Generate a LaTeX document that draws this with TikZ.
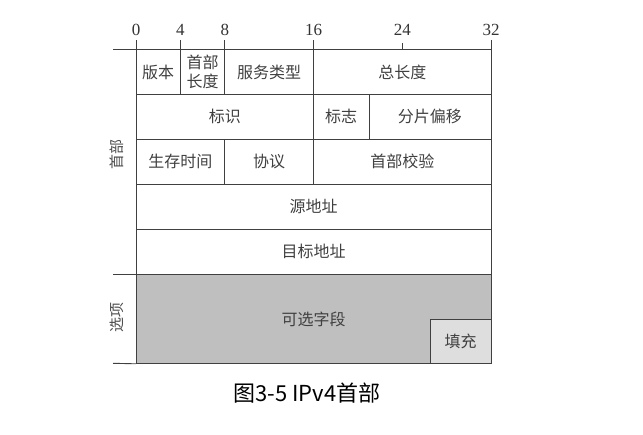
\documentclass[tikz,border=0pt]{standalone}
\usepackage{fontspec}
\setmainfont{Liberation Serif}
\newfontfamily\cjk{Noto Sans CJK SC}
\begin{document}
\begin{tikzpicture}[x=1pt,y=-1pt,
  line/.style={draw=black!75, line width=0.9pt},
  field/.style={line, anchor=north west, inner sep=0pt, outer sep=0pt,
    font=\cjk\fontsize{16}{19}\selectfont, text=black!75},
  num/.style={font=\fontsize{17}{19}\selectfont, text=black!80, inner sep=0pt},
  side/.style={font=\cjk\fontsize{15}{17}\selectfont, text=black!70, rotate=90, inner sep=0pt}]
\useasboundingbox (0,0) rectangle (643,435);
\def\u{11.094}
\def\h{44.9}
% fields: x0=136, y0=49.5
\newcommand\fld[6]{% name, bit start, bit end, row, text, style
  \node[field,#6, minimum width={(#3-#2)*\u pt}, minimum height={\h pt}]
    (#1) at ({136+#2*\u},{49.5+#4*\h}) {#5};}
\fld{ver}{0}{4}{0}{版本}{}
\fld{ihl}{4}{8}{0}{\shortstack[c]{首部\\[1pt]长度}}{}
\fld{tos}{8}{16}{0}{服务类型}{}
\fld{len}{16}{32}{0}{总长度}{}
\fld{id}{0}{16}{1}{标识}{}
\fld{flg}{16}{21}{1}{标志}{}
\fld{off}{21}{32}{1}{分片偏移}{}
\fld{ttl}{0}{8}{2}{生存时间}{}
\fld{pro}{8}{16}{2}{协议}{}
\fld{chk}{16}{32}{2}{首部校验}{}
\fld{src}{0}{32}{3}{源地址}{}
\fld{dst}{0}{32}{4}{目标地址}{}
\node[field, fill=black!25, minimum width={32*\u pt}, minimum height={2*\h pt}]
  (opt) at (136,274) {};
\node[font=\cjk\fontsize{16}{19}\selectfont, text=black!75] (optt) at (opt.center) {可选字段};
\node[field, fill=black!13, anchor=south east, minimum width=61pt, minimum height=44.5pt]
  (pad) at (opt.south east) {填充};
% axis
\coordinate (axl) at (113,49.5);
\coordinate (axr) at (ver.north west -| len.north east);
\draw[line] (axl) -- (axr);
\coordinate (bl) at (113,363.3);
\draw[line] (bl) -- (opt.south west);
\coordinate (ml) at (113,274);
\draw[line] (ml) -- (opt.north west);
% ticks and numbers
\foreach \b/\n/\t in {0/n0/40.5,4/n4/40.5,8/n8/40.5,16/n16/40.5,24/n24/43,32/n32/40.5}{
  \coordinate (t\n) at ({136+\b*\u},49.5);
  \draw[line] (t\n) -- ++(0,{\t-49.5});
  \node[num] (\n) at ({136+\b*\u},30) {\b};
}
% side labels
\node[side] (hdr) at (117,155) {首部};
\node[side] (opl) at (117,318) {选项};
% caption
\node[font=\cjk\fontsize{22}{25}\selectfont, text=black, inner sep=0pt] (cap) at (307,393) {图3-5 IPv4首部};
\end{tikzpicture}
\end{document}
